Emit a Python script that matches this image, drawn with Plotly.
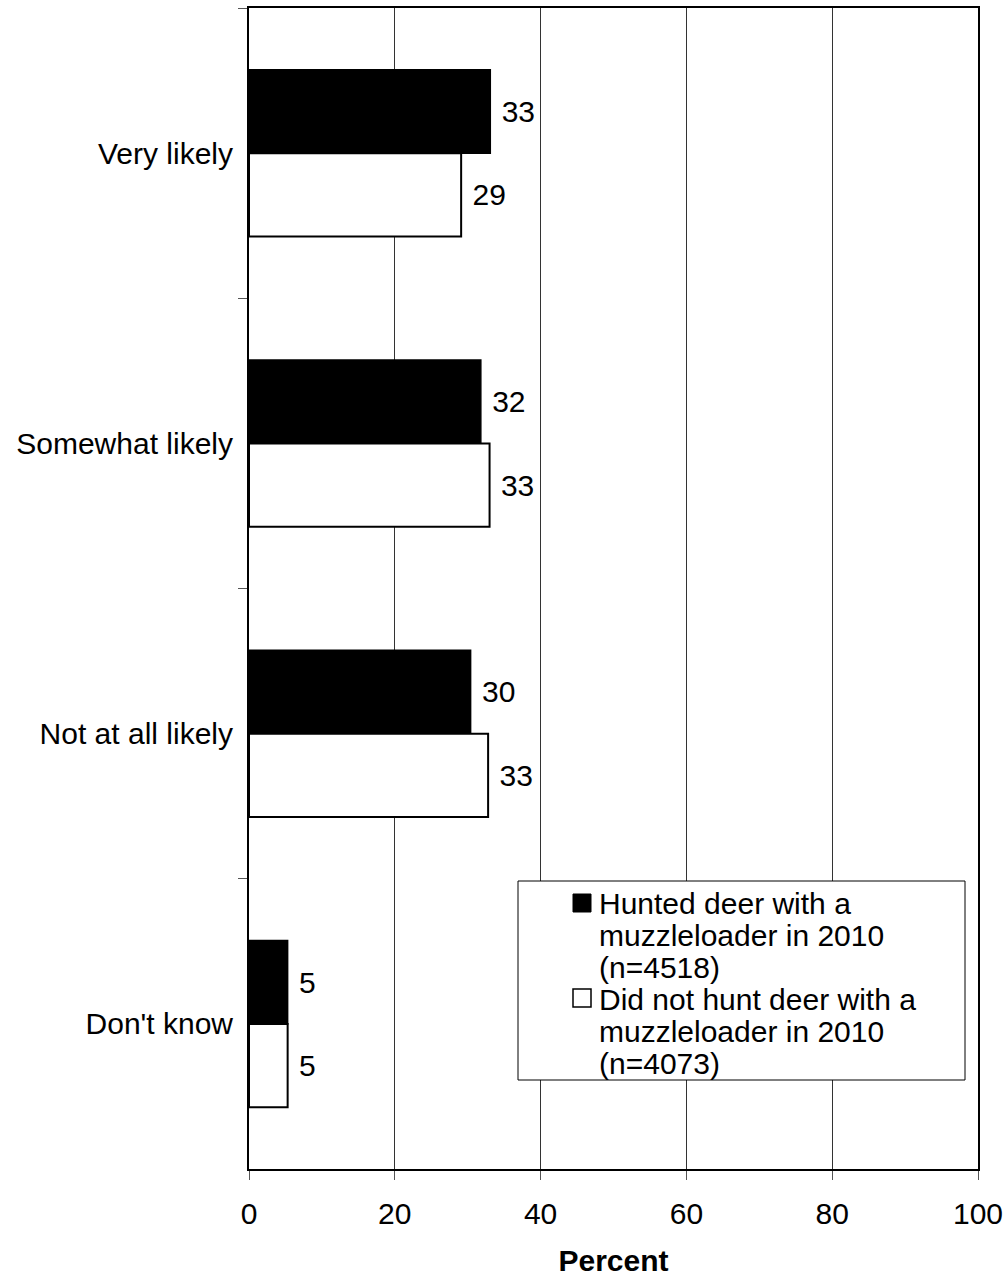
import plotly.graph_objects as go

categories = ["Very likely", "Somewhat likely", "Not at all likely", "Don't know"]
hunted = [33.1, 31.8, 30.4, 5.3]
not_hunted = [29.1, 33.0, 32.8, 5.3]
series_names = [
    "Hunted deer with a\nmuzzleloader in 2010\n(n=4518)",
    "Did not hunt deer with a\nmuzzleloader in 2010\n(n=4073)",
]
x_ticks = [0, 20, 40, 60, 80, 100]

FONT = "Liberation Sans, Arial, sans-serif"
FS = 30

W, H = 1007, 1277
ML, MR, MT, MB = 249, 29, 8, 108
PW, PH = W - ML - MR, H - MT - MB


def px(x):
    return (x - ML) / PW


def py(y):
    return (MT + PH - y) / PH


fig = go.Figure()
fig.add_trace(go.Bar(
    y=categories, x=hunted, orientation="h", name=series_names[0].replace("\n", "<br>"),
    marker=dict(color="black", line=dict(color="black", width=1.5)),
    text=[f"\u00a0{round(v)}" for v in hunted], textposition="outside",
    textfont=dict(family=FONT, size=FS, color="black"), constraintext="none",
    cliponaxis=False,
))
fig.add_trace(go.Bar(
    y=categories, x=not_hunted, orientation="h", name=series_names[1].replace("\n", "<br>"),
    marker=dict(color="white", line=dict(color="black", width=2)),
    text=[f"\u00a0{round(v)}" for v in not_hunted], textposition="outside",
    textfont=dict(family=FONT, size=FS, color="black"), constraintext="none",
    cliponaxis=False,
))

# Custom legend box
shapes = [
    dict(type="rect", xref="paper", yref="paper", x0=px(518), x1=px(965), y0=py(1080), y1=py(881),
         fillcolor="white", line=dict(color="black", width=1), layer="above"),
    dict(type="rect", xref="paper", yref="paper", x0=px(573), x1=px(591), y0=py(912), y1=py(894),
         fillcolor="black", line=dict(color="black", width=1), layer="above"),
    dict(type="rect", xref="paper", yref="paper", x0=px(573), x1=px(591), y0=py(1007), y1=py(989),
         fillcolor="white", line=dict(color="black", width=1.5), layer="above"),
]
annotations = []
item_tops = [903, 999]
for name, top in zip(series_names, item_tops):
    for i, line in enumerate(name.split("\n")):
        annotations.append(dict(
            xref="paper", yref="paper", x=px(597), y=py(top + 32 * i),
            xanchor="left", yanchor="middle", showarrow=False, text=line,
            font=dict(family=FONT, size=FS, color="black"),
        ))

fig.update_layout(
    width=W, height=H, autosize=False,
    margin=dict(l=ML, r=MR, t=MT, b=MB, pad=0, autoexpand=False),
    paper_bgcolor="white", plot_bgcolor="white",
    barmode="group", bargap=0.425, bargroupgap=0,
    showlegend=False,
    font=dict(family=FONT, size=FS, color="black"),
    shapes=shapes, annotations=annotations,
    xaxis=dict(
        range=[0, 100], tickvals=x_ticks, ticktext=[str(t) for t in x_ticks],
        showgrid=True, gridcolor="#333333", gridwidth=1,
        showline=True, linecolor="black", linewidth=2, mirror=True,
        ticks="outside", ticklen=9, tickcolor="#555555", tickwidth=1,
        tickfont=dict(family=FONT, size=FS, color="black"),
        ticklabelstandoff=8, automargin=False,
        title=dict(text="<b>Percent</b>", font=dict(family=FONT, size=FS, color="black"), standoff=28),
        zeroline=False,
    ),
    yaxis=dict(
        type="category", categoryorder="array", categoryarray=categories,
        range=[3.5, -0.5], automargin=False,
        showgrid=False, zeroline=False,
        showline=True, linecolor="black", linewidth=2, mirror=True,
        ticks="outside", ticklen=9, tickcolor="#555555", tickwidth=1,
        tickson="boundaries",
        tickfont=dict(family=FONT, size=FS, color="black"),
        ticklabelstandoff=8,
    ),
)

fig.write_html(
    "out.html",
    config={"displayModeBar": False},
    post_script="document.body.style.margin='0';document.body.style.overflow='hidden';",
)
